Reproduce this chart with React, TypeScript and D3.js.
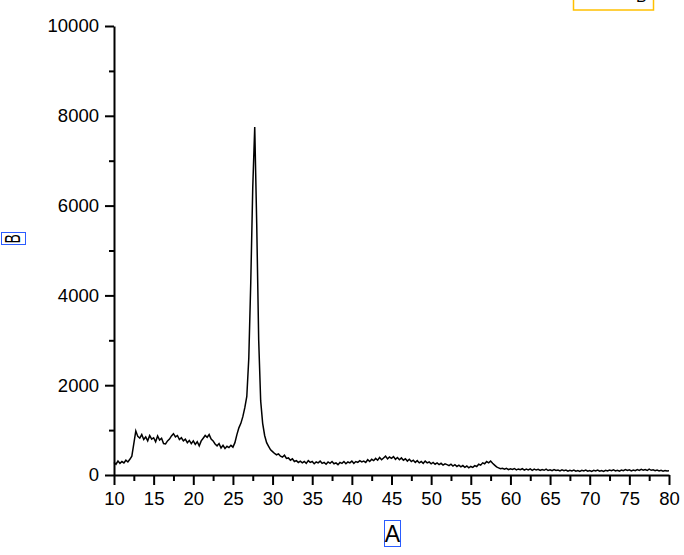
import React, { useEffect, useRef } from 'react';
import * as d3 from 'd3';

const WIDTH = 684;
const HEIGHT = 555;

// scan sampled every 0.25 deg, from 10 to 80
const angleStart = 10;
const angleStep = 0.25;
const intensity = [
  280, 240, 310, 260, // 10
  300, 270, 330, 290, // 11
  350, 420, 700, 980, // 12
  860, 820, 900, 790, // 13
  850, 760, 880, 800, // 14
  830, 740, 870, 780, // 15
  820, 700, 690, 760, // 16
  800, 870, 920, 850, // 17
  880, 790, 830, 760, // 18
  800, 720, 770, 700, // 19
  760, 680, 740, 650, // 20
  760, 820, 880, 840, // 21
  900, 800, 760, 690, // 22
  650, 700, 600, 660, // 23
  590, 640, 610, 660, // 24
  620, 720, 900, 1050, // 25
  1150, 1300, 1500, 1750, // 26
  2600, 4300, 6400, 7750, // 27
  5600, 3000, 1650, 1150, // 28
  880, 720, 640, 560, // 29
  520, 480, 450, 470, // 30
  420, 400, 440, 370, // 31
  380, 330, 360, 300, // 32
  320, 280, 310, 270, // 33
  300, 260, 320, 280, // 34
  300, 250, 290, 270, // 35
  310, 260, 280, 240, // 36
  290, 260, 300, 250, // 37
  270, 230, 280, 260, // 38
  300, 250, 290, 270, // 39
  310, 260, 300, 280, // 40
  320, 290, 310, 280, // 41
  340, 300, 350, 320, // 42
  370, 330, 390, 340, // 43
  380, 420, 360, 400, // 44
  370, 410, 350, 390, // 45
  340, 380, 330, 360, // 46
  310, 350, 300, 330, // 47
  280, 320, 270, 300, // 48
  260, 310, 270, 290, // 49
  250, 280, 240, 270, // 50
  230, 260, 220, 250, // 51
  230, 210, 240, 200, // 52
  230, 190, 220, 180, // 53
  210, 170, 200, 160, // 54
  190, 170, 210, 190, // 55
  240, 220, 270, 250, // 56
  300, 270, 310, 260, // 57
  220, 180, 160, 140, // 58
  150, 130, 150, 120, // 59
  140, 125, 145, 115, // 60
  135, 120, 140, 110, // 61
  130, 115, 135, 105, // 62
  130, 110, 125, 100, // 63
  120, 105, 130, 100, // 64
  115, 95, 120, 100, // 65
  110, 90, 115, 95, // 66
  110, 85, 105, 90, // 67
  110, 85, 100, 80, // 68
  105, 90, 110, 85, // 69
  100, 80, 105, 90, // 70
  110, 85, 100, 80, // 71
  105, 90, 110, 95, // 72
  115, 90, 105, 85, // 73
  110, 95, 120, 100, // 74
  115, 90, 110, 95, // 75
  120, 100, 125, 105, // 76
  120, 100, 130, 105, // 77
  115, 95, 110, 90, // 78
  105, 85, 100, 90, // 79
  95, // 80
];

const xTicks = [10, 15, 20, 25, 30, 35, 40, 45, 50, 55, 60, 65, 70, 75, 80];
const yTicks = [0, 2000, 4000, 6000, 8000, 10000];
const xTitle = 'A';
const yTitle = 'B';
const seriesName = 'B';

const FONT = '"Liberation Sans", Arial, sans-serif';

const App = () => {
  const chartRef = useRef<SVGSVGElement | null>(null);

  useEffect(() => {
    const svg = d3.select(chartRef.current);
    svg.selectAll('*').remove();

    const x = d3.scaleLinear().domain([10, 80]).range([114, 669]);
    const y = d3.scaleLinear().domain([0, 10000]).range([475, 26]);

    const data = intensity.map((v, i) => ({ angle: angleStart + i * angleStep, value: v }));

    // minor ticks halfway between majors
    const xMinor = d3.range(12.5, 80, 5);
    const yMinor = d3.range(1000, 10000, 2000);

    const styleAxis = (g) => {
      g.select('.domain').attr('stroke', '#000').attr('stroke-width', 2);
      g.selectAll('.tick line').attr('stroke', '#000').attr('stroke-width', 2);
      g.selectAll('.tick text')
        .attr('fill', '#000')
        .style('font-family', FONT)
        .style('font-size', '18.5px');
    };

    // minor ticks first so the main axis line sits on top
    svg.append('g')
      .attr('transform', 'translate(0,475)')
      .call(d3.axisBottom(x).tickValues(xMinor).tickSize(6).tickFormat(() => '').tickSizeOuter(0))
      .call(g => g.select('.domain').remove())
      .call(g => g.selectAll('.tick line').attr('stroke', '#000').attr('stroke-width', 2));

    svg.append('g')
      .attr('transform', 'translate(114,0)')
      .call(d3.axisLeft(y).tickValues(yMinor).tickSize(5).tickFormat(() => '').tickSizeOuter(0))
      .call(g => g.select('.domain').remove())
      .call(g => g.selectAll('.tick line').attr('stroke', '#000').attr('stroke-width', 2));

    svg.append('g')
      .attr('transform', 'translate(0,475)')
      .call(d3.axisBottom(x).tickValues(xTicks).tickSize(10).tickPadding(7).tickSizeOuter(0))
      .call(styleAxis);

    svg.append('g')
      .attr('transform', 'translate(114,0)')
      .call(d3.axisLeft(y).tickValues(yTicks).tickSize(9).tickPadding(6).tickSizeOuter(0).tickFormat(d3.format('d')))
      .call(styleAxis);

    const line = d3.line<{ angle: number; value: number }>()
      .x(d => x(d.angle))
      .y(d => y(d.value));

    svg.append('path')
      .datum(data)
      .attr('fill', 'none')
      .attr('stroke', '#000')
      .attr('stroke-width', 1.5)
      .attr('stroke-linejoin', 'miter')
      .attr('d', line);

    // axis titles in their selection boxes
    svg.append('rect')
      .attr('x', 384.5).attr('y', 520.5)
      .attr('width', 16).attr('height', 26)
      .attr('fill', 'none').attr('stroke', '#2a5cff').attr('stroke-width', 1);
    svg.append('text')
      .attr('x', 392.5).attr('y', 541.5)
      .attr('text-anchor', 'middle')
      .style('font-family', FONT).style('font-size', '23px')
      .text(xTitle);

    svg.append('rect')
      .attr('x', 1.5).attr('y', 232.5)
      .attr('width', 24).attr('height', 12)
      .attr('fill', 'none').attr('stroke', '#2a5cff').attr('stroke-width', 1);
    svg.append('text')
      .attr('transform', 'translate(20,238.7) rotate(-90)')
      .attr('text-anchor', 'middle')
      .attr('textLength', 9)
      .attr('lengthAdjust', 'spacingAndGlyphs')
      .style('font-family', FONT).style('font-size', '22px')
      .text(yTitle);

    // legend, mostly off the top edge as in the source
    svg.append('rect')
      .attr('x', 573.5).attr('y', -20)
      .attr('width', 80).attr('height', 30)
      .attr('fill', '#fff').attr('stroke', '#ffc000').attr('stroke-width', 1.5);
    svg.append('text')
      .attr('x', 636).attr('y', 2)
      .style('font-family', FONT).style('font-size', '16px')
      .text(seriesName);
  }, []);

  return (
    <div style={{ position: 'absolute', left: 0, top: 0 }}>
      <svg ref={chartRef} width={WIDTH} height={HEIGHT} style={{ display: 'block', background: '#fff' }} />
    </div>
  );
};

export default App;
